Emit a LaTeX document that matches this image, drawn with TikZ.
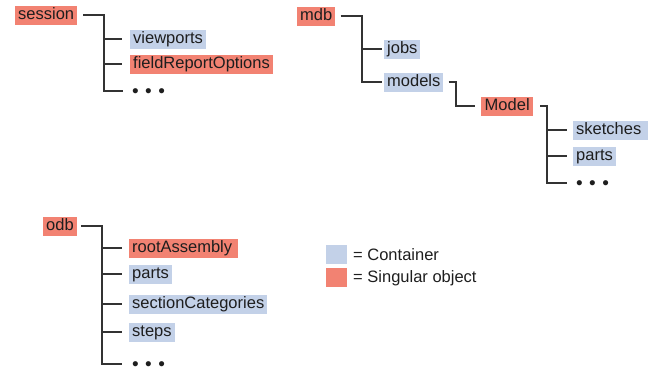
\documentclass[tikz,border=0pt]{standalone}
\usepackage{fontspec}
\setmainfont{Liberation Sans}
\definecolor{objred}{HTML}{F28272}
\definecolor{contblue}{HTML}{C3D1E8}
\definecolor{txt}{HTML}{1E1E1E}
\definecolor{ln}{HTML}{333333}
\tikzset{
  box/.style={anchor=west, inner xsep=3pt, inner ysep=1.5pt, text height=12.4pt, text depth=3.6pt,
    font=\fontsize{16.5}{19}\selectfont, text=txt},
  cont/.style={box, fill=contblue},
  obj/.style={box, fill=objred},
  dotsnode/.style={anchor=west, inner sep=0pt, text height=13.6pt, text depth=0pt,
    font=\fontsize{19}{22}\selectfont, text=txt},
  conn/.style={draw=ln, line width=1.5pt},
  legsq/.style={minimum width=21pt, minimum height=19pt, inner sep=0pt, anchor=north west},
  legtxt/.style={anchor=west, inner sep=0pt, font=\fontsize{16.5}{19}\selectfont, text=txt}
}
\newcommand{\tdots}{•\hspace{6.4pt}•\hspace{6.4pt}•}
\begin{document}
\begin{tikzpicture}[x=1pt,y=-1pt]
\useasboundingbox (0,0) rectangle (664,376);
% session tree
\node[obj] (session) at (15,15) {session};
\node[cont] (viewports) at (130,39) {viewports};
\node[obj] (fro) at (130,64) {fieldReportOptions};
\node[dotsnode] (sdots) at (132,91) {\tdots};
\draw[conn] ([xshift=6pt]session.east) -| ([xshift=-28pt]sdots.west) -- ([xshift=-9pt]sdots.west);
\draw[conn] ([xshift=-27pt]viewports.west) -- ([xshift=-8pt]viewports.west);
\draw[conn] ([xshift=-27pt]fro.west) -- ([xshift=-8pt]fro.west);
% mdb tree
\node[obj] (mdb) at (297,16) {mdb};
\node[cont] (jobs) at (384,49) {jobs};
\node[cont] (models) at (384,82) {models};
\node[obj, minimum width=52pt] (Model) at (481,106) {Model};
\node[cont, text width=69pt] (sketches) at (573,130) {sketches};
\node[cont] (mparts) at (573,156) {parts};
\node[dotsnode] (mdots) at (576,183) {\tdots};
\draw[conn] ([xshift=5pt]mdb.east) -| ([xshift=-22pt]models.west) -- ([xshift=-2pt]models.west);
\draw[conn] ([xshift=-22pt]jobs.west) -- ([xshift=-2pt]jobs.west);
\draw[conn] ([xshift=5pt]models.east) -| ([xshift=-25pt]Model.west) -- ([xshift=-6pt]Model.west);
\draw[conn] ([xshift=7pt]Model.east) -| ([xshift=-29pt]mdots.west) -- ([xshift=-9pt]mdots.west);
\draw[conn] ([xshift=-26pt]sketches.west) -- ([xshift=-6pt]sketches.west);
\draw[conn] ([xshift=-26pt]mparts.west) -- ([xshift=-6pt]mparts.west);
% odb tree
\node[obj] (odb) at (43,226) {odb};
\node[obj, text width=103pt] (root) at (129,248) {rootAssembly};
\node[cont] (oparts) at (129,274) {parts};
\node[cont] (secc) at (129,304) {sectionCategories};
\node[cont] (steps) at (129,332) {steps};
\node[dotsnode] (odots) at (132,364) {\tdots};
\draw[conn] ([xshift=4pt]odb.east) -| ([xshift=-30pt]odots.west) -- ([xshift=-10pt]odots.west);
\draw[conn] ([xshift=-27pt]root.west) -- ([xshift=-7pt]root.west);
\draw[conn] ([xshift=-27pt]oparts.west) -- ([xshift=-7pt]oparts.west);
\draw[conn] ([xshift=-27pt]secc.west) -- ([xshift=-7pt]secc.west);
\draw[conn] ([xshift=-27pt]steps.west) -- ([xshift=-7pt]steps.west);
% legend
\node[legsq, fill=contblue] (lc) at (326,245) {};
\node[legsq, fill=objred] (lo) at (326,268) {};
\node[legtxt] (lct) at (353,255) {= Container};
\node[legtxt] (lot) at (353,278) {= Singular object};
\end{tikzpicture}
\end{document}
